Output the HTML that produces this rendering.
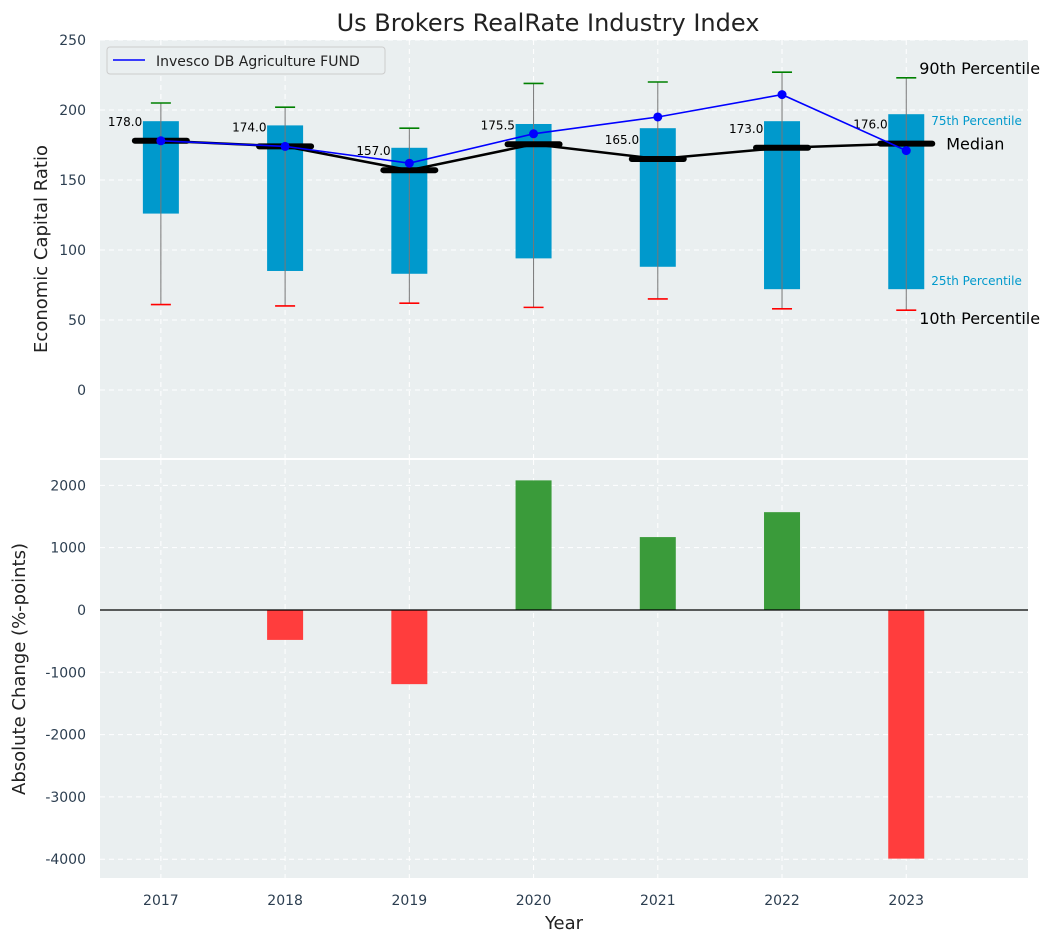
<!DOCTYPE html>
<html><head><meta charset="utf-8"><style>
body{margin:0;background:#fff;font-family:"Liberation Sans","DejaVu Sans",sans-serif}
svg text{font-family:"DejaVu Sans","Liberation Sans",sans-serif}
</style></head><body>
<svg id="chart" width="1054" height="942" xmlns="http://www.w3.org/2000/svg"></svg>
<script>
const years=[2017,2018,2019,2020,2021,2022,2023];
const q1=[126,85,83,94,88,72,72];
const q3=[192,189,173,190,187,192,197];
const medians=[178,174,157,175.5,165,173,176];
const p10=[61,60,62,59,65,58,57];
const p90=[205,202,187,219,220,227,223];
const fund=[178,174,162,183,195,211,171];
const changes=[0,-480,-1190,2080,1170,1570,-3990];
const topTicks=[0,50,100,150,200,250];
const botTicks=[-4000,-3000,-2000,-1000,0,1000,2000];

const svg=document.getElementById('chart');
const NS='http://www.w3.org/2000/svg';
function mk(tag,attrs,parent){const e=document.createElementNS(NS,tag);for(const k in attrs)e.setAttribute(k,attrs[k]);(parent||svg).appendChild(e);return e;}
const L=100,R=1028;
const x=v=>L+(v-2016.51)/(2023.98-2016.51)*(R-L);
const T0=40,T1=458,tMin=-48.6,tMax=250;
const yT=v=>T1-(v-tMin)/(tMax-tMin)*(T1-T0);
const B0=460,B1=878,bMin=-4301,bMax=2407;
const yB=v=>B1-(v-bMin)/(bMax-bMin)*(B1-B0);

let e;
e=mk('rect',{x:L,y:T0,width:R-L,height:T1-T0,fill:'#eaeff0'});

e=mk('rect',{x:L,y:B0,width:R-L,height:B1-B0,fill:'#eaeff0'});


years.forEach(yr=>{
 mk('line',{x1:x(yr),x2:x(yr),y1:T0,y2:T1,stroke:'#fff','stroke-dasharray':'5,4','stroke-width':1});
 mk('line',{x1:x(yr),x2:x(yr),y1:B0,y2:B1,stroke:'#fff','stroke-dasharray':'5,4','stroke-width':1});
 e=mk('text',{x:x(yr),y:905,'text-anchor':'middle','font-size':14,fill:'#2c3e50'});e.textContent=yr;
 
});
topTicks.forEach(t=>{
 mk('line',{x1:L,x2:R,y1:yT(t),y2:yT(t),stroke:'#fff','stroke-dasharray':'5,4'});
 e=mk('text',{x:86,y:yT(t)+5,'text-anchor':'end','font-size':14,fill:'#2c3e50'});e.textContent=t;
 
});
botTicks.forEach(t=>{
 mk('line',{x1:L,x2:R,y1:yB(t),y2:yB(t),stroke:'#fff','stroke-dasharray':'5,4'});
 e=mk('text',{x:86,y:yB(t)+5,'text-anchor':'end','font-size':14,fill:'#2c3e50'});e.textContent=t;
 
});

years.forEach((yr,i)=>{
 const cx=x(yr);
 e=mk('rect',{x:cx-18,y:yT(q3[i]),width:36,height:yT(q1[i])-yT(q3[i]),fill:'#0099cc'});
 
 mk('line',{x1:cx,x2:cx,y1:yT(p90[i]),y2:yT(p10[i]),stroke:'#777','stroke-width':1});
 mk('line',{x1:cx-10,x2:cx+10,y1:yT(p90[i]),y2:yT(p90[i]),stroke:'green','stroke-width':1.6});
 mk('line',{x1:cx-10,x2:cx+10,y1:yT(p10[i]),y2:yT(p10[i]),stroke:'red','stroke-width':1.6});
 e=mk('line',{x1:cx-26,x2:cx+26,y1:yT(medians[i]),y2:yT(medians[i]),stroke:'#000','stroke-width':6,'stroke-linecap':'round'});
 
 e=mk('text',{x:cx-53,y:yT(medians[i])-15,'font-size':12,fill:'#000'});e.textContent=medians[i].toFixed(1);
 
});
e=mk('polyline',{points:years.map((yr,i)=>x(yr)+','+yT(medians[i])).join(' '),fill:'none',stroke:'#000','stroke-width':2.5});

e=mk('polyline',{points:years.map((yr,i)=>x(yr)+','+yT(fund[i])).join(' '),fill:'none',stroke:'blue','stroke-width':1.6});

years.forEach((yr,i)=>{e=mk('circle',{cx:x(yr),cy:yT(fund[i]),r:4.5,fill:'blue'});
 });

const lx=x(2023);
[['90th Percentile',lx+13,yT(p90[6])-4,16,'#000'],['75th Percentile',lx+25,yT(q3[6])+11,12,'#0099cc'],['Median',lx+40,yT(medians[6])+6,16,'#000'],['25th Percentile',lx+25,yT(q1[6])-4,12,'#0099cc'],['10th Percentile',lx+13,yT(p10[6])+14,16,'#000']].forEach(a=>{
 e=mk('text',{x:a[1],y:a[2],'font-size':a[3],fill:a[4]});e.textContent=a[0];
 
});

e=mk('rect',{x:107,y:47,width:278,height:27,rx:3,fill:'#eaeff0',stroke:'#ccc'});

mk('line',{x1:113,x2:145,y1:60,y2:60,stroke:'blue','stroke-width':1.6});
e=mk('text',{x:156,y:66,'font-size':14,fill:'#222'});e.textContent='Invesco DB Agriculture FUND';


years.forEach((yr,i)=>{
 const v=changes[i];if(v===0)return;
 e=mk('rect',{x:x(yr)-18,y:Math.min(yB(v),yB(0)),width:36,height:Math.abs(yB(v)-yB(0)),fill:v>0?'#3a9b3a':'#ff3d3d'});
 
});
e=mk('line',{x1:L,x2:R,y1:yB(0),y2:yB(0),stroke:'#000','stroke-width':1.2});


e=mk('text',{x:548,y:31,'text-anchor':'middle','font-size':24,fill:'#222'});e.textContent='Us Brokers RealRate Industry Index';

e=mk('text',{x:0,y:0,'text-anchor':'middle','font-size':18,fill:'#222',transform:'translate(47,249) rotate(-90)'});e.textContent='Economic Capital Ratio';

e=mk('text',{x:0,y:0,'text-anchor':'middle','font-size':18,fill:'#222',transform:'translate(25,669) rotate(-90)'});e.textContent='Absolute Change (%-points)';

e=mk('text',{x:564,y:929,'text-anchor':'middle','font-size':18,fill:'#222'});e.textContent='Year';

</script>
</body></html>
